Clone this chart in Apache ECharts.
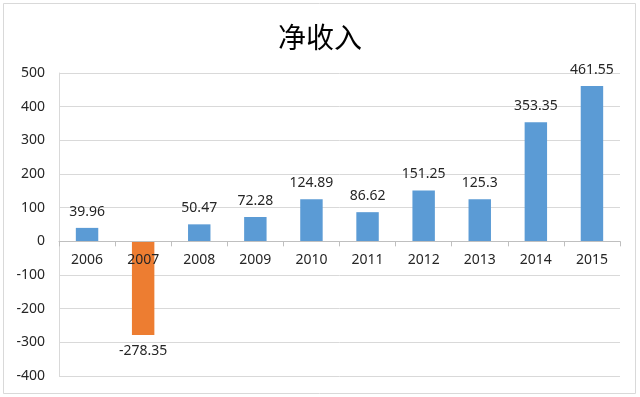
<!DOCTYPE html>
<html>
<head>
    <meta charset="utf-8">
    <title>净收入</title>
    <script src="https://cdn.jsdelivr.net/npm/echarts@6/dist/echarts.min.js"></script>
    <style>
        html, body { margin: 0; padding: 0; background: #fff; }
        #main { width: 640px; height: 397px; }
    </style>
</head>
<body>
<div id="main"></div>
<script type="text/javascript">
    // 数据
    var years = ['2006', '2007', '2008', '2009', '2010', '2011', '2012', '2013', '2014', '2015'];
    var netIncome = [39.96, -278.35, 50.47, 72.28, 124.89, 86.62, 151.25, 125.3, 353.35, 461.55];
    var yTicks = { min: -400, max: 500, interval: 100 };

    var gridTop = 73, gridBottom = 21, chartH = 397;
    // 类目轴放到0线位置
    var plotH = chartH - gridTop - gridBottom;
    var zeroOffset = -plotH * (0 - yTicks.min) / (yTicks.max - yTicks.min);

    var myChart = echarts.init(document.getElementById('main'));

    var barData = netIncome.map(function (v) {
        return {
            value: v,
            itemStyle: { color: v < 0 ? '#ED7D31' : '#5B9BD5' },
            label: { position: v < 0 ? 'bottom' : 'top' }
        };
    });

    var option = {
        animation: false,
        backgroundColor: '#fff',
        graphic: [{
            type: 'rect',
            shape: { x: 3.5, y: 3.5, width: 632, height: 390 },
            style: { fill: 'none', stroke: '#d9d9d9', lineWidth: 1 },
            silent: true
        }],
        title: {
            text: '净收入',
            left: 'center',
            top: 18,
            textStyle: {
                fontFamily: 'Noto Sans CJK SC',
                fontSize: 28,
                fontWeight: 'normal',
                color: '#000'
            }
        },
        grid: {
            left: 59,
            right: 20,
            top: gridTop,
            bottom: gridBottom,
            containLabel: false
        },
        xAxis: {
            type: 'category',
            data: years,
            offset: zeroOffset,
            z: 5,
            axisLine: { onZero: false, lineStyle: { color: '#bfbfbf' } },
            axisTick: { show: true, length: 5, lineStyle: { color: '#bfbfbf' } },
            axisLabel: {
                color: '#262626',
                fontSize: 14,
                fontFamily: 'Noto Sans',
                margin: 12
            },
            splitLine: { show: false }
        },
        yAxis: {
            type: 'value',
            min: yTicks.min,
            max: yTicks.max,
            interval: yTicks.interval,
            axisLine: { show: true, lineStyle: { color: '#d9d9d9' } },
            axisTick: { show: false },
            axisLabel: {
                color: '#262626',
                fontSize: 14,
                fontFamily: 'Noto Sans',
                margin: 14
            },
            splitLine: { lineStyle: { color: '#d9d9d9' } }
        },
        series: [{
            name: '净收入',
            type: 'bar',
            data: barData,
            barWidth: '40%',
            label: {
                show: true,
                color: '#262626',
                fontSize: 14,
                fontFamily: 'Noto Sans',
                distance: 9
            }
        }]
    };
    myChart.setOption(option);
</script>
</body>
</html>
